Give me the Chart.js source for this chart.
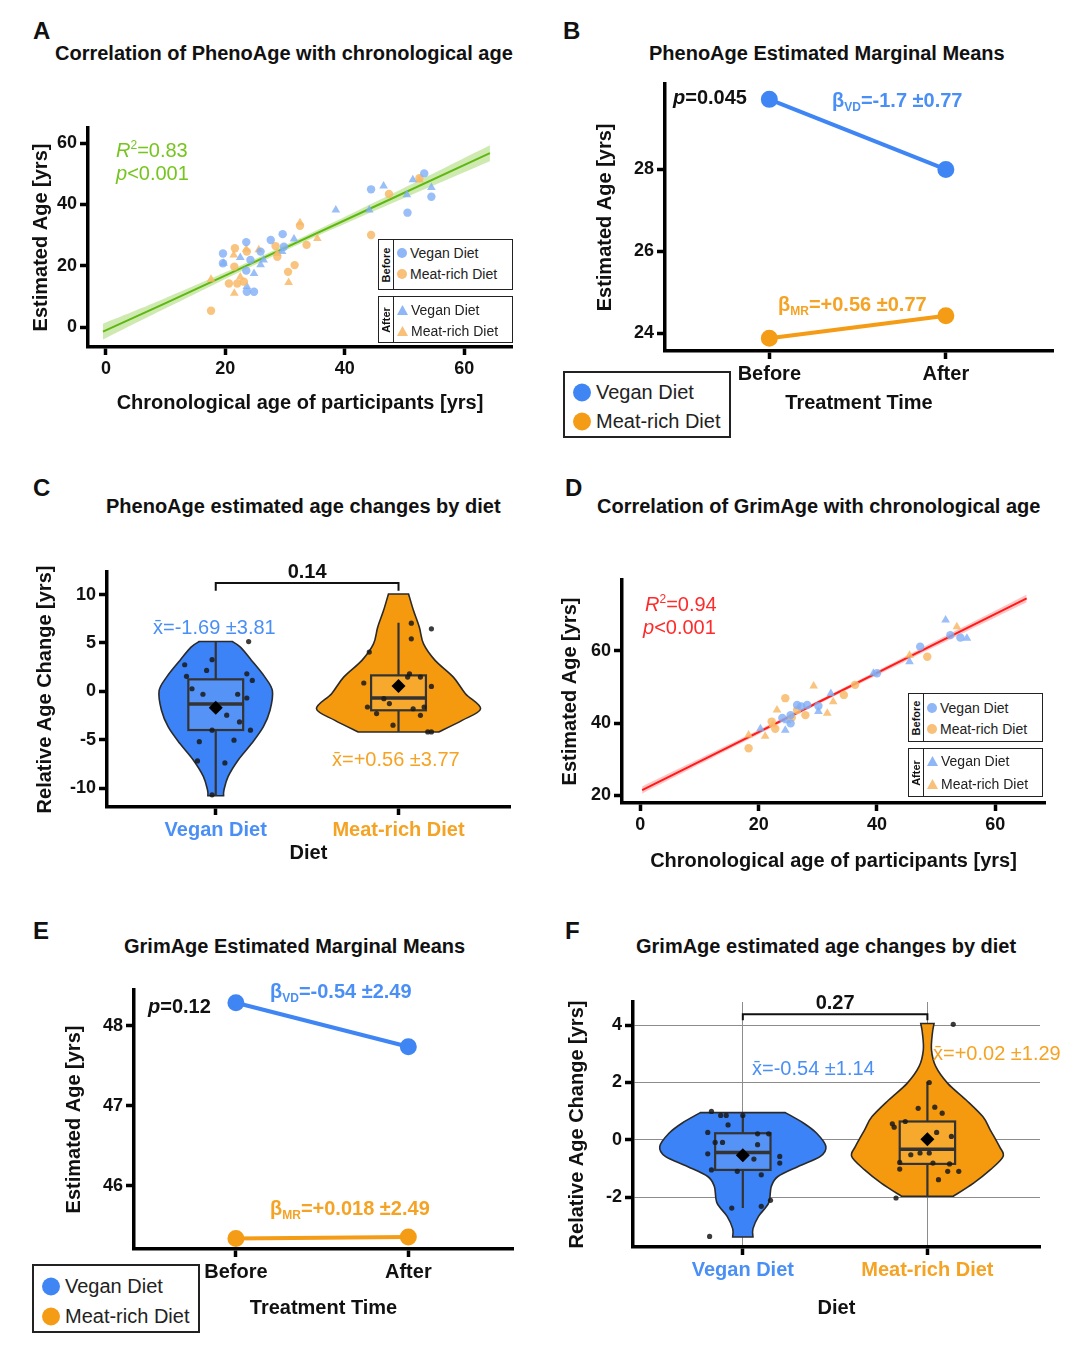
<!DOCTYPE html>
<html>
<head>
<meta charset="utf-8">
<script src="https://cdn.jsdelivr.net/npm/chart.js@4.4.1/dist/chart.umd.min.js"></script>
<style>
  body { margin: 0; background: #fff; font-family: "Liberation Sans", Arial, sans-serif; color: #111; }
  #page { position: relative; width: 1080px; height: 1346px; overflow: hidden; }
  canvas { position: absolute; }
  .t { position: absolute; white-space: nowrap; line-height: 1; transform: translateY(-50%); }
  .letter { font-size: 24px; font-weight: bold; }
  .title { font-size: 20px; font-weight: bold; }
  .ann { font-size: 20px; }
  .ann sup { font-size: 12px; vertical-align: 8px; }
  .ann sub { font-size: 12px; vertical-align: -4px; }
  .bold { font-weight: bold; }
  .blue { color: #4a8ff5; }
  .orange { color: #f5a325; }
  .box { position: absolute; border: 1.5px solid #222; box-sizing: border-box; background: #fff; }
  .box .side { position: absolute; left: 0; top: 0; bottom: 0; width: 14px; border-right: 1.5px solid #222; }
  .box .side span { position: absolute; left: 50%; top: 50%; transform: translate(-50%, -50%) rotate(-90deg); font-size: 11px; font-weight: bold; }
  .box .it { position: absolute; left: 18px; transform: translateY(-50%); font-size: 14px; display: flex; align-items: center; gap: 3px; white-space: nowrap; color: #222; }
  .dot { display: inline-block; width: 10px; height: 10px; border-radius: 50%; }
  .big { border-width: 2px; }
  .big .it { left: 8px; font-size: 20px; gap: 5px; }
  .big .dot { width: 18px; height: 18px; }
</style>
</head>
<body>
<div id="page">
  <canvas id="chartA" width="500" height="310" style="left:25px;top:110px"></canvas>
  <canvas id="chartB" width="480" height="350" style="left:580px;top:70px"></canvas>
  <canvas id="chartC" width="495" height="315" style="left:25px;top:555px"></canvas>
  <canvas id="chartD" width="500" height="315" style="left:555px;top:565px"></canvas>
  <canvas id="chartE" width="480" height="350" style="left:45px;top:975px"></canvas>
  <canvas id="chartF" width="490" height="340" style="left:560px;top:985px"></canvas>

  <!-- panel letters and titles -->
  <div class="t letter" style="left:33px;top:31px">A</div>
  <div class="t title" style="left:55px;top:53px">Correlation of PhenoAge with chronological age</div>
  <div class="t letter" style="left:563px;top:31px">B</div>
  <div class="t title" style="left:649px;top:53px">PhenoAge Estimated Marginal Means</div>
  <div class="t letter" style="left:33px;top:488px">C</div>
  <div class="t title" style="left:106px;top:506px">PhenoAge estimated age changes by diet</div>
  <div class="t letter" style="left:565px;top:488px">D</div>
  <div class="t title" style="left:597px;top:506px">Correlation of GrimAge with chronological age</div>
  <div class="t letter" style="left:33px;top:931px">E</div>
  <div class="t title" style="left:124px;top:946px">GrimAge Estimated Marginal Means</div>
  <div class="t letter" style="left:565px;top:931px">F</div>
  <div class="t title" style="left:636px;top:946px">GrimAge estimated age changes by diet</div>

  <!-- annotations -->
  <div class="t ann" style="left:116px;top:149px;color:#76c51e"><i>R</i><sup>2</sup>=0.83</div>
  <div class="t ann" style="left:116px;top:173px;color:#76c51e"><i>p</i>&lt;0.001</div>
  <div class="t ann bold" style="left:673px;top:97px"><i>p</i>=0.045</div>
  <div class="t ann bold blue" style="left:832px;top:101px">β<sub>VD</sub>=-1.7 ±0.77</div>
  <div class="t ann bold orange" style="left:778px;top:305px">β<sub>MR</sub>=+0.56 ±0.77</div>
  <div class="t ann blue" style="left:153px;top:627px">x̄=-1.69 ±3.81</div>
  <div class="t ann orange" style="left:332px;top:759px">x̄=+0.56 ±3.77</div>
  <div class="t ann" style="left:645px;top:603px;color:#ff2a2a"><i>R</i><sup>2</sup>=0.94</div>
  <div class="t ann" style="left:643px;top:627px;color:#ff2a2a"><i>p</i>&lt;0.001</div>
  <div class="t ann bold" style="left:148px;top:1006px"><i>p</i>=0.12</div>
  <div class="t ann bold blue" style="left:270px;top:992px">β<sub>VD</sub>=-0.54 ±2.49</div>
  <div class="t ann bold orange" style="left:270px;top:1209px">β<sub>MR</sub>=+0.018 ±2.49</div>
  <div class="t ann blue" style="left:752px;top:1068px">x̄=-0.54 ±1.14</div>
  <div class="t ann orange" style="left:933px;top:1053px">x̄=+0.02 ±1.29</div>

  <!-- scatter legends -->
  <div class="box" style="left:378px;top:239px;width:135px;height:51px">
    <div class="side"><span>Before</span></div>
    <div class="it" style="top:13px"><i class="dot" style="background:#8fb6f6"></i>Vegan Diet</div>
    <div class="it" style="top:34px"><i class="dot" style="background:#f8c078"></i>Meat-rich Diet</div>
  </div>
  <div class="box" style="left:378px;top:296px;width:135px;height:47px">
    <div class="side"><span>After</span></div>
    <div class="it" style="top:13px"><svg width="11" height="10"><polygon points="5.5,0 11,10 0,10" fill="#8fb6f6"/></svg>Vegan Diet</div>
    <div class="it" style="top:34px"><svg width="11" height="10"><polygon points="5.5,0 11,10 0,10" fill="#f8c078"/></svg>Meat-rich Diet</div>
  </div>
  <div class="box" style="left:908px;top:693px;width:135px;height:49px">
    <div class="side"><span>Before</span></div>
    <div class="it" style="top:14px"><i class="dot" style="background:#8fb6f6"></i>Vegan Diet</div>
    <div class="it" style="top:35px"><i class="dot" style="background:#f8c078"></i>Meat-rich Diet</div>
  </div>
  <div class="box" style="left:908px;top:748px;width:135px;height:49px">
    <div class="side"><span>After</span></div>
    <div class="it" style="top:12px"><svg width="11" height="10"><polygon points="5.5,0 11,10 0,10" fill="#8fb6f6"/></svg>Vegan Diet</div>
    <div class="it" style="top:35px"><svg width="11" height="10"><polygon points="5.5,0 11,10 0,10" fill="#f8c078"/></svg>Meat-rich Diet</div>
  </div>

  <!-- marginal means legends -->
  <div class="box big" style="left:563px;top:371px;width:168px;height:67px">
    <div class="it" style="top:19px"><i class="dot" style="background:#3f86f4"></i>Vegan Diet</div>
    <div class="it" style="top:48px"><i class="dot" style="background:#f59c16"></i>Meat-rich Diet</div>
  </div>
  <div class="box big" style="left:32px;top:1264px;width:168px;height:69px">
    <div class="it" style="top:20px"><i class="dot" style="background:#3f86f4"></i>Vegan Diet</div>
    <div class="it" style="top:50px"><i class="dot" style="background:#f59c16"></i>Meat-rich Diet</div>
  </div>
</div>

<script>
const FONT = '"Liberation Sans", Arial, sans-serif';
const BLUE = '#3f86f4';
const ORANGE = '#f59c16';
const PT_BLUE = 'rgba(128,174,246,0.8)';
const PT_ORANGE = 'rgba(248,186,104,0.85)';

// ---- shared categories / tick labels ----
const timeX = [1, 2];
const timeLabels = ['Before', 'After'];
const dietX = [1, 2];
const dietLabels = ['Vegan Diet', 'Meat-rich Diet'];
const dietColors = ['#4a8ff5', '#f5a325'];

// ---- A: PhenoAge vs chronological age ([age, estimated]) ----
const veganBeforeA = [[53.3, 50.1], [54.5, 42.5], [44.4, 44.9], [50.5, 37.3], [29.6, 30.3], [27.6, 28.4], [23.5, 27.7], [19.6, 24], [19.6, 20.8], [23.5, 18.4], [25.9, 24.6], [24.2, 21.9], [23.6, 11.5], [24.8, 11.5], [29.8, 26.2]];
const meatBeforeA = [[52.5, 48.5], [47.4, 43.4], [44.4, 30], [32.5, 33], [33.6, 26.8], [31.6, 20.2], [30.5, 18], [28.4, 26.4], [21.6, 25.7], [21.5, 19.7], [20.6, 14.2], [22, 14.2], [23.1, 14.8], [17.6, 5.3], [23.6, 24.6], [28.7, 22.9]];
const veganAfterA = [[46.5, 46], [38.5, 38.2], [51.4, 48], [54.5, 45.5], [50.4, 43.1], [31.5, 28.7], [29.5, 24.6], [22.5, 22.7], [24.8, 17.5], [25.9, 20.3], [23.6, 13.2], [19.7, 20.8], [44.1, 38.2], [26.4, 21.9]];
const meatAfterA = [[52.5, 48], [32.5, 34], [35.4, 28.9], [30.6, 14.5], [21.5, 11], [21.4, 23.5], [17.6, 15.6], [23.5, 25.4], [28.7, 24], [25.6, 25.2], [22.5, 16.3]];
const fitXA = [-0.5, 10, 28, 45, 64.3];
const fitYA = [-1.5, 7.8, 24.0, 39.3, 56.7];
const bandLowA = [-4.1, 6.1, 23.1, 37.9, 54.1];
const bandHighA = [1.1, 9.5, 24.9, 40.7, 59.3];

// ---- B: PhenoAge marginal means ----
const veganMeansB = [29.71, 28.0];
const meatMeansB = [23.88, 24.43];

// ---- C: PhenoAge change by diet ----
const veganChangeC = [2.75, 3.27, 2.16, 1.55, 5.15, 1.81, 1.13, 0.27, -0.3, -0.3, -0.69, -2.47, -3.16, -4.02, -4.02, -5.2, -5.05, -7.2, -7.4, -10.7];
const veganJitterC = [-0.17, -0.02, -0.05, -0.16, 0.18, 0.17, 0.2, -0.13, -0.07, 0.12, 0.17, 0.06, 0.13, -0.02, 0.19, -0.09, 0.1, -0.1, 0.05, -0.02];
const meatChangeC = [6.46, 7.05, 5.43, 4.06, 0.86, 1.82, 1.47, 1.47, 0.51, -1.62, -2.3, -1.27, -0.76, -1.8, -1.62, -2.48, -3.5, -4.2, -4.2];
const meatJitterC = [0.18, 0.07, 0.07, -0.16, -0.19, 0.06, 0.12, 0.05, 0.18, -0.17, -0.12, -0.05, -0.08, 0.08, 0.14, 0.12, -0.03, 0.16, 0.18];
const meansC = [-1.69, 0.56];
// [whisker low, Q1, median, Q3, whisker high]
const boxVeganC = [-10.8, -4.0, -1.3, 1.24, 5.1];
const boxMeatC = [-4.2, -1.96, -0.69, 1.65, 7.08];
// [value, half width of the violin]
const violinVeganC = [[5.15, 0.09], [4.57, 0.135], [3.2, 0.196], [1.47, 0.269], [0.04, 0.31], [-1.96, 0.297], [-3.68, 0.26], [-5.4, 0.196], [-7.1, 0.123], [-8.8, 0.068], [-10.2, 0.045], [-10.8, 0.043]];
const violinMeatC = [[10.07, 0.055], [8.35, 0.082], [6.63, 0.114], [4.9, 0.137], [3.2, 0.2], [1.47, 0.3], [-0.24, 0.366], [-1.8, 0.449], [-3.0, 0.348], [-4.2, 0.22]];

// ---- D: GrimAge vs chronological age ----
const veganBeforeD = [[52.4, 64.4], [54.1, 63.7], [47.3, 61.2], [40, 53.8], [25.4, 39.9], [26.5, 45], [28.2, 45], [30.1, 44.7], [25.4, 42.2], [24, 41.4], [27.2, 44.6]];
const meatBeforeD = [[48.5, 58.4], [24.5, 46.9], [26.5, 43.6], [34.4, 47.8], [36.3, 50.6], [18.3, 33], [22.2, 40.4], [22.8, 38.4], [27.9, 42.2], [25.6, 41.5]];
const veganAfterD = [[51.6, 68.6], [55.2, 63.5], [45.5, 57], [39.4, 53.8], [20.3, 38.4], [24.5, 38], [30.1, 43.2], [32.2, 48.2], [24.8, 40.6]];
const meatAfterD = [[53.5, 66.7], [45.5, 58.8], [29.3, 50.3], [23.1, 43.6], [31.6, 42.7], [32.6, 45.9], [18.3, 36.7], [21.1, 36.3], [22.4, 39.5]];
const fitXD = [0.3, 15, 30, 45, 65.3];
const fitYD = [21.4, 33.4, 45.7, 58.0, 74.6];
const bandLowD = [20.4, 32.7, 45.2, 57.3, 73.5];
const bandHighD = [22.4, 34.1, 46.2, 58.7, 75.7];

// ---- E: GrimAge marginal means ----
const veganMeansE = [48.29, 47.74];
const meatMeansE = [45.34, 45.36];

// ---- F: GrimAge change by diet ----
const veganChangeF = [0.99, 0.85, 0.85, 0.85, 0.52, 0.26, -0.09, -0.09, 0.21, 0.21, -0.17, -0.49, -0.58, -0.81, -0.67, -1.05, -1.1, -1.22, -2.11, -2.32, -2.38, -3.37];
const veganJitterF = [-0.17, -0.12, -0.09, 0, -0.08, -0.19, -0.15, -0.11, 0.08, 0.14, 0.08, -0.19, 0.2, 0.2, 0.06, -0.17, -0.03, 0.1, 0.15, 0.1, -0.06, -0.18];
const meatChangeF = [4.03, -2.03, 2.0, 1.1, 1.14, 0.93, 0.56, 0.44, 0.64, 0.26, 0.12, -0.52, -0.46, -0.46, -0.79, -1.02, -0.81, -1.1, -1.1, -1.39, -0.84];
const meatJitterF = [0.14, -0.17, 0.01, -0.05, 0.04, 0.08, -0.19, -0.18, -0.12, 0.05, 0.13, -0.09, -0.04, 0.01, -0.15, -0.15, 0.03, 0.11, 0.17, 0.06, 0.12];
const meansF = [-0.54, 0.02];
const boxVeganF = [-2.38, -1.05, -0.44, 0.23, 0.87];
const boxMeatF = [-2.0, -0.84, -0.33, 0.64, 2.03];
const violinVeganF = [[0.95, 0.23], [0.58, 0.33], [0.23, 0.4], [-0.23, 0.45], [-0.58, 0.42], [-0.93, 0.3], [-1.28, 0.19], [-1.63, 0.154], [-2.2, 0.14], [-2.67, 0.085], [-3.1, 0.055], [-3.39, 0.055]];
const violinMeatF = [[4.06, 0.036], [3.72, 0.027], [3.14, 0.022], [2.56, 0.045], [1.97, 0.11], [1.39, 0.21], [0.81, 0.3], [0.35, 0.34], [-0.23, 0.39], [-0.58, 0.41], [-1.05, 0.34], [-1.51, 0.25], [-1.97, 0.14]];

// Catmull-Rom through pixel points
function smoothTo(ctx, pts) {
  for (let i = 0; i < pts.length - 1; i++) {
    const p0 = pts[i - 1] || pts[i];
    const p1 = pts[i];
    const p2 = pts[i + 1];
    const p3 = pts[i + 2] || p2;
    ctx.bezierCurveTo(
      p1[0] + (p2[0] - p0[0]) / 6, p1[1] + (p2[1] - p0[1]) / 6,
      p2[0] - (p3[0] - p1[0]) / 6, p2[1] - (p3[1] - p1[1]) / 6,
      p2[0], p2[1]);
  }
}

/** Violin + box drawn under the jittered points. */
const violinPlugin = {
  id: 'violin',
  beforeDatasetsDraw(chart, args, opts) {
    const { ctx, scales: { x, y } } = chart;
    (opts.items || []).forEach((it) => {
      const right = it.density.map(([v, w]) => [x.getPixelForValue(it.x + w), y.getPixelForValue(v)]);
      const left = it.density.map(([v, w]) => [x.getPixelForValue(it.x - w), y.getPixelForValue(v)]).reverse();
      ctx.save();
      ctx.beginPath();
      ctx.moveTo(right[0][0], right[0][1]);
      smoothTo(ctx, right);
      ctx.lineTo(left[0][0], left[0][1]);
      smoothTo(ctx, left);
      ctx.closePath();
      ctx.fillStyle = it.color;
      ctx.fill();
      ctx.lineWidth = 1.6;
      ctx.strokeStyle = '#2a2a2a';
      ctx.stroke();

      const [lo, q1, med, q3, hi] = it.box;
      const cx = x.getPixelForValue(it.x);
      const bl = x.getPixelForValue(it.x - it.boxWidth);
      const br = x.getPixelForValue(it.x + it.boxWidth);
      ctx.strokeStyle = '#333';
      ctx.lineWidth = 2.2;
      ctx.beginPath();
      ctx.moveTo(cx, y.getPixelForValue(hi));
      ctx.lineTo(cx, y.getPixelForValue(q3));
      ctx.moveTo(cx, y.getPixelForValue(q1));
      ctx.lineTo(cx, y.getPixelForValue(lo));
      ctx.stroke();
      const top = y.getPixelForValue(q3);
      const bot = y.getPixelForValue(q1);
      ctx.fillStyle = it.boxColor;
      ctx.fillRect(bl, top, br - bl, bot - top);
      ctx.strokeRect(bl, top, br - bl, bot - top);
      ctx.lineWidth = 3.5;
      ctx.beginPath();
      ctx.moveTo(bl, y.getPixelForValue(med));
      ctx.lineTo(br, y.getPixelForValue(med));
      ctx.stroke();
      ctx.restore();
    });
  },
};

/** Significance bracket with its p-value. */
const bracketPlugin = {
  id: 'bracket',
  afterDatasetsDraw(chart, args, opts) {
    if (!opts.label) return;
    const { ctx, scales: { x, y } } = chart;
    const x1 = x.getPixelForValue(opts.x1);
    const x2 = x.getPixelForValue(opts.x2);
    const yb = y.getPixelForValue(opts.y);
    const yt = y.getPixelForValue(opts.yTick);
    ctx.save();
    ctx.strokeStyle = '#111';
    ctx.lineWidth = 2;
    ctx.beginPath();
    ctx.moveTo(x1, yt);
    ctx.lineTo(x1, yb);
    ctx.lineTo(x2, yb);
    ctx.lineTo(x2, yt);
    ctx.stroke();
    ctx.fillStyle = '#111';
    ctx.font = 'bold 20px ' + FONT;
    ctx.textAlign = 'center';
    ctx.textBaseline = 'bottom';
    ctx.fillText(opts.label, (x1 + x2) / 2, yb - 1);
    ctx.restore();
  },
};

function axes(s) {
  const tickFont = { family: FONT, size: 18, weight: 'bold' };
  const catFont = { family: FONT, size: 20, weight: 'bold' };
  const titleFont = { family: FONT, size: 20, weight: 'bold' };
  const grid = {
    drawOnChartArea: !!s.grid, color: '#8c8c8c', lineWidth: 1,
    tickLength: 8, tickColor: '#000', tickWidth: 3.5,
  };
  return {
    x: {
      type: 'linear', min: s.xMin, max: s.xMax,
      afterBuildTicks: (a) => { a.ticks = s.xTicks.map((v) => ({ value: v })); },
      afterFit: (a) => { a.height = s.xHeight; },
      border: { color: '#000', width: 3.5 },
      grid,
      ticks: {
        font: s.xLabel ? catFont : tickFont, color: s.xTickColor || '#111', padding: 3,
        maxRotation: 0, autoSkip: false, callback: s.xLabel || ((v) => v),
      },
      title: { display: true, text: s.xTitle, font: titleFont, color: '#111', padding: { top: 0, bottom: 4 } },
    },
    y: {
      type: 'linear', min: s.yMin, max: s.yMax,
      afterBuildTicks: (a) => { a.ticks = s.yTicks.map((v) => ({ value: v })); },
      afterFit: (a) => { a.width = s.yWidth; },
      border: { color: '#000', width: 3.5 },
      grid,
      ticks: { font: tickFont, color: '#111', padding: 3, autoSkip: false, callback: (v) => v },
      title: { display: true, text: s.yTitle, font: titleFont, color: '#111', padding: { top: 2, bottom: 0 } },
    },
  };
}

function baseOptions(pad, scales, pluginOpts) {
  return {
    responsive: false,
    animation: false,
    layout: { padding: pad, autoPadding: false },
    plugins: Object.assign({ legend: { display: false }, tooltip: { enabled: false } }, pluginOpts || {}),
    scales,
  };
}

const toXY = (pairs) => pairs.map(([x, y]) => ({ x, y }));
const zipXY = (xs, ys) => xs.map((x, i) => ({ x, y: ys[i] }));

function pts(label, data, color, style, radius) {
  return { type: 'scatter', label, data: toXY(data), backgroundColor: color, borderWidth: 0, pointStyle: style, pointRadius: radius };
}

function scatterDatasets(groups, fitX, fitY, low, high, lineColor, bandColor) {
  return [
    pts('Before Vegan', groups[0], PT_BLUE, 'circle', 4.2),
    pts('Before Meat-rich', groups[1], PT_ORANGE, 'circle', 4.2),
    pts('After Vegan', groups[2], PT_BLUE, 'triangle', 5),
    pts('After Meat-rich', groups[3], PT_ORANGE, 'triangle', 5),
    { type: 'line', label: 'fit', data: zipXY(fitX, fitY), borderColor: lineColor, borderWidth: 2, pointRadius: 0, tension: 0, fill: false },
    { type: 'line', label: 'upper', data: zipXY(fitX, high), borderWidth: 0, pointRadius: 0, tension: 0.4, fill: '+1', backgroundColor: bandColor },
    { type: 'line', label: 'lower', data: zipXY(fitX, low), borderWidth: 0, pointRadius: 0, tension: 0.4, fill: false },
  ];
}

// A
new Chart(document.getElementById('chartA'), {
  type: 'scatter',
  data: { datasets: scatterDatasets([veganBeforeA, meatBeforeA, veganAfterA, meatAfterA], fitXA, fitYA, bandLowA, bandHighA, '#5fb812', 'rgba(125,200,50,0.38)') },
  options: baseOptions({ left: 2, top: 18, right: 13, bottom: 1 }, axes({
    xMin: -3, xMax: 68, xTicks: [0, 20, 40, 60], xHeight: 72, xTitle: 'Chronological age of participants [yrs]',
    yMin: -6.5, yMax: 64.9, yTicks: [0, 20, 40, 60], yWidth: 61, yTitle: 'Estimated Age [yrs]',
  })),
});

// D
new Chart(document.getElementById('chartD'), {
  type: 'scatter',
  data: { datasets: scatterDatasets([veganBeforeD, meatBeforeD, veganAfterD, meatAfterD], fitXD, fitYD, bandLowD, bandHighD, '#ff1a1a', 'rgba(255,90,90,0.35)') },
  options: baseOptions({ left: 1, top: 15, right: 10, bottom: 3 }, axes({
    xMin: -3.1, xMax: 68.4, xTicks: [0, 20, 40, 60], xHeight: 74, xTitle: 'Chronological age of participants [yrs]',
    yMin: 17.8, yMax: 79.7, yTicks: [20, 40, 60], yWidth: 66, yTitle: 'Estimated Age [yrs]',
  })),
});

function meansChart(id, vegan, meat, pad, s) {
  new Chart(document.getElementById(id), {
    type: 'line',
    data: {
      datasets: [
        { label: dietLabels[0], data: zipXY(timeX, vegan), borderColor: BLUE, backgroundColor: BLUE, borderWidth: 4, pointRadius: 6.5 },
        { label: dietLabels[1], data: zipXY(timeX, meat), borderColor: ORANGE, backgroundColor: ORANGE, borderWidth: 4, pointRadius: 6.5 },
      ],
    },
    options: baseOptions(pad, axes(Object.assign({
      xMin: 0.409, xMax: 2.607, xTicks: timeX, xTitle: 'Treatment Time', xLabel: (v) => timeLabels[v - 1],
      yTitle: 'Estimated Age [yrs]',
    }, s))),
  });
}

meansChart('chartB', veganMeansB, meatMeansB, { left: 11, top: 13, right: 7, bottom: 1 },
  { yMin: 23.57, yMax: 30.09, yTicks: [24, 26, 28], yWidth: 74, xHeight: 68 });
meansChart('chartE', veganMeansE, meatMeansE, { left: 15, top: 15, right: 12, bottom: 1 },
  { yMin: 45.21, yMax: 48.45, yTicks: [46, 47, 48], yWidth: 74, xHeight: 75 });

function violinChart(id, d, pad, s) {
  new Chart(document.getElementById(id), {
    type: 'scatter',
    plugins: [violinPlugin, bracketPlugin],
    data: {
      datasets: [
        { label: 'mean', data: zipXY(dietX, d.means), backgroundColor: '#000', pointStyle: 'rectRot', pointRadius: 7, borderWidth: 0 },
        { label: dietLabels[0], data: d.veganVals.map((v, i) => ({ x: dietX[0] + d.veganJit[i], y: v })), backgroundColor: 'rgba(25,25,25,0.85)', pointRadius: 2.6, borderWidth: 0 },
        { label: dietLabels[1], data: d.meatVals.map((v, i) => ({ x: dietX[1] + d.meatJit[i], y: v })), backgroundColor: 'rgba(25,25,25,0.85)', pointRadius: 2.6, borderWidth: 0 },
      ],
    },
    options: baseOptions(pad, axes(Object.assign({
      xMin: 0.405, xMax: 2.61, xTicks: dietX, xTitle: 'Diet', xLabel: (v) => dietLabels[v - 1],
      xTickColor: (c) => dietColors[c.index], yTitle: 'Relative Age Change [yrs]',
    }, s)), {
      violin: {
        items: [
          { x: dietX[0], density: d.veganViolin, box: d.veganBox, boxWidth: 0.15, color: '#3b83f6', boxColor: '#5593f6' },
          { x: dietX[1], density: d.meatViolin, box: d.meatBox, boxWidth: 0.15, color: '#f59a0e', boxColor: '#f7a92e' },
        ],
      },
      bracket: d.bracket,
    }),
  });
}

violinChart('chartC', {
  means: meansC, veganVals: veganChangeC, veganJit: veganJitterC, meatVals: meatChangeC, meatJit: meatJitterC,
  veganViolin: violinVeganC, meatViolin: violinMeatC, veganBox: boxVeganC, meatBox: boxMeatC,
  bracket: { x1: 1, x2: 2, y: 11.2, yTick: 10.4, label: '0.14' },
}, { left: 6, top: 17, right: 10, bottom: 1 }, {
  yMin: -11.96, yMax: 12.34, yTicks: [-10, -5, 0, 5, 10], yWidth: 76, xHeight: 62,
});

violinChart('chartF', {
  means: meansF, veganVals: veganChangeF, veganJit: veganJitterF, meatVals: meatChangeF, meatJit: meatJitterF,
  veganViolin: violinVeganF, meatViolin: violinMeatF, veganBox: boxVeganF, meatBox: boxMeatF,
  bracket: { x1: 1, x2: 2, y: 4.38, yTick: 4.17, label: '0.27' },
}, { left: 3, top: 17, right: 10, bottom: 1 }, {
  yMin: -3.74, yMax: 4.81, yTicks: [-2, 0, 2, 4], yWidth: 70, xHeight: 77, grid: true,
});
</script>
</body>
</html>
